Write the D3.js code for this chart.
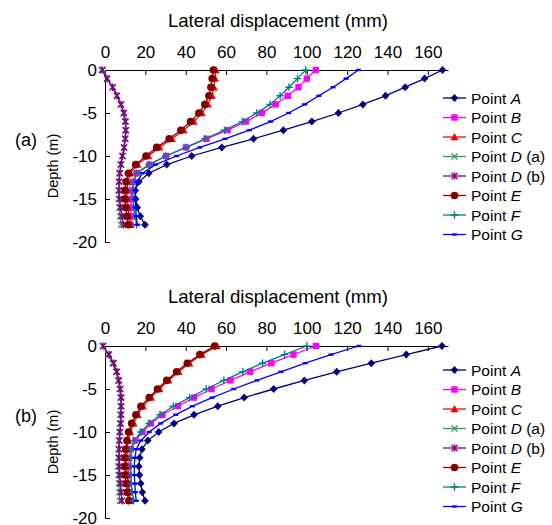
<!DOCTYPE html>
<html>
<head>
<meta charset="utf-8">
<script src="https://cdn.jsdelivr.net/npm/d3@7"></script>
<style>
  html, body { margin: 0; padding: 0; background: #fff; }
  svg text { font-family: "Liberation Sans", Arial, Helvetica, sans-serif; fill: #000; }
</style>
</head>
<body>
<svg id="chart" width="552" height="525"></svg>
<script>
// Depth of each reading (m)
const depth = [0, -1, -2, -3, -4, -5, -6, -7, -8, -9, -10, -11, -12, -13, -14, -15, -16, -17, -18];

// Axis ticks
const xTicks = [0, 20, 40, 60, 80, 100, 120, 140, 160];
const yTicks = [0, -5, -10, -15, -20];

// Series names
const seriesNames = ["A", "B", "C", "D", "D", "E", "F", "G"];
const seriesSuffix = ["", "", "", " (a)", " (b)", "", "", ""];

// Panel (a): lateral displacement (mm) at each depth
const a_A  = [167.3, 158.4, 148.8, 139, 127.8, 115.7, 102.5, 88.4, 73.6, 57.9, 43, 30.6, 21.7, 16.8, 15, 15.2, 16, 17.5, 19.8];
const a_B  = [104.5, 100, 95.9, 90.6, 84.6, 77.7, 69.9, 60.8, 50.3, 40.2, 30.3, 22, 15.7, 14, 13.2, 12.9, 12.9, 12.9, 12.7];
const a_C  = [55, 54.6, 54, 53, 51, 48, 44, 39, 33.2, 27, 21.5, 16.2, 12.6, 11.3, 10.9, 10.9, 11.4, 12, 12.8];
const a_Da = [-1, 1.2, 3.8, 6, 7.8, 9.2, 9.9, 10.1, 9.9, 9.4, 8.8, 8.1, 7.5, 7.1, 6.9, 6.9, 7.1, 7.5, 8];
const a_Db = [-1.5, 1, 3.8, 5.9, 8, 9.4, 10.2, 10.4, 10.1, 9.5, 8.6, 7.8, 7.2, 6.9, 6.9, 7.2, 7.7, 8.4, 9.2];
const a_E  = [53.7, 53.1, 52.5, 51.5, 49.5, 46.5, 42.4, 37.6, 31.8, 25.6, 20.3, 15.2, 11.6, 10.4, 9.9, 9.9, 10.4, 10.9, 11.6];
const a_F  = [99.5, 95.4, 91.2, 86.8, 81.8, 75.2, 68.1, 59.2, 49.6, 40.2, 30.1, 21.8, 15.7, 14.2, 13.8, 13.8, 14.2, 14.8, 15.7];
const a_G  = [125.6, 119.5, 113, 106, 99, 91, 82, 71.5, 59.5, 47, 35.5, 25, 18.5, 16, 15, 15, 15.2, 15.5, 16];

// Panel (b)
const b_A  = [167, 149.3, 132, 114.8, 98.8, 83.6, 69, 55.9, 44.1, 34.2, 26.6, 21.2, 18.3, 17.2, 16.8, 17.1, 17.7, 18.5, 19.8];
const b_B  = [104.6, 93.4, 82.4, 72, 62.2, 52.8, 44.1, 36.2, 28.5, 22.7, 18.6, 15, 12.8, 12, 11.7, 11.7, 11.9, 12.1, 12.4];
const b_C  = [55.5, 48, 41.8, 36.5, 31.5, 27, 22.8, 18.8, 16.2, 14.2, 12.5, 11.5, 11, 10.8, 10.8, 11, 11.3, 11.8, 12.5];
const b_Da = [-1, 1.5, 3.8, 5.5, 6.5, 7.2, 7.6, 7.7, 7.6, 7.4, 7.1, 6.9, 6.7, 6.6, 6.6, 6.7, 6.9, 7.1, 7.4];
const b_Db = [-1, 2, 4.3, 5.9, 6.9, 7.6, 8.1, 8.1, 8, 7.8, 7.5, 7.2, 7, 7, 7.1, 7.3, 7.6, 8, 8.4];
const b_E  = [54.3, 47, 40.8, 35.5, 30.6, 26, 21.9, 17.8, 15.3, 13.2, 11.7, 10.9, 10.2, 9.9, 9.9, 10, 10.5, 11, 11.8];
const b_F  = [100, 89, 78.1, 68.3, 58.9, 50.2, 41.9, 33.9, 27.3, 21.9, 17.8, 14.5, 13, 12.8, 12.7, 12.8, 13, 13.5, 14.2];
const b_G  = [125.8, 112, 99.2, 87.2, 75.3, 63.8, 53.1, 43.3, 35, 27.6, 21.9, 17.8, 15.5, 14.8, 14.5, 14.5, 14.8, 15, 15.5];

// Styling for each series: colour and marker shape
const styles = [
  { color: "#000080", marker: "diamond" },
  { color: "#ff00ff", marker: "square" },
  { color: "#ff0000", marker: "triangle" },
  { color: "#339966", marker: "cross" },
  { color: "#800080", marker: "star" },
  { color: "#800000", marker: "circle" },
  { color: "#008080", marker: "plus" },
  { color: "#0000ff", marker: "dash" }
];

const panels = [
  { tag: "(a)", top: 70, legendTop: 98, series: [a_A, a_B, a_C, a_Da, a_Db, a_E, a_F, a_G] },
  { tag: "(b)", top: 346, legendTop: 370, series: [b_A, b_B, b_C, b_Da, b_Db, b_E, b_F, b_G] }
];

const plotLeft = 105, plotRight = 448, plotHeight = 172;
const svg = d3.select("#chart");

// Draws one marker of the given shape centred at (cx, cy)
function drawMarker(g, shape, color, cx, cy) {
  const m = g.append("g").attr("transform", `translate(${cx},${cy})`);
  switch (shape) {
    case "diamond":
      m.append("path").attr("d", "M0,-4L3.8,0L0,4L-3.8,0Z").attr("fill", color);
      break;
    case "square":
      m.append("rect").attr("x", -3.2).attr("y", -3.2).attr("width", 6.4).attr("height", 6.4).attr("fill", color);
      break;
    case "triangle":
      m.append("path").attr("d", "M0,-4L4,3.2L-4,3.2Z").attr("fill", color);
      break;
    case "cross":
      m.append("path").attr("d", "M-3,-3L3,3M-3,3L3,-3").attr("stroke", color).attr("stroke-width", 1.4).attr("fill", "none");
      break;
    case "star":
      m.append("path").attr("d", "M-3,-3L3,3M-3,3L3,-3M0,-3.8L0,3.8").attr("stroke", color).attr("stroke-width", 1.4).attr("fill", "none");
      break;
    case "circle":
      m.append("circle").attr("r", 3.8).attr("fill", color);
      break;
    case "plus":
      m.append("path").attr("d", "M-3.8,0L3.8,0M0,-3.8L0,3.8").attr("stroke", color).attr("stroke-width", 1.4).attr("fill", "none");
      break;
    case "dash":
      m.append("rect").attr("x", -2.5).attr("y", -1.2).attr("width", 5).attr("height", 2.4).attr("fill", color);
      break;
  }
}

panels.forEach(p => {
  const x = d3.scaleLinear().domain([0, 170]).range([plotLeft, plotRight]);
  const y = d3.scaleLinear().domain([0, -20]).range([p.top, p.top + plotHeight]);
  const g = svg.append("g");

  // Axes: x along the top, depth down the left, ticks pointing inwards
  const xAxis = g.append("g")
    .attr("transform", `translate(0,${p.top})`)
    .call(d3.axisTop(x).tickValues(xTicks).tickSizeInner(-5).tickSizeOuter(0).tickPadding(12).tickFormat(d => String(d)));
  const yAxis = g.append("g")
    .attr("transform", `translate(${plotLeft},0)`)
    .call(d3.axisLeft(y).tickValues(yTicks).tickSizeInner(-5).tickSizeOuter(0).tickPadding(8).tickFormat(d => String(d)));
  [xAxis, yAxis].forEach(a => {
    a.selectAll("path, line").attr("stroke", "#000").attr("stroke-width", 1);
    a.selectAll("text").attr("font-size", 17).attr("fill", "#000")
      .style("font-family", '"Liberation Sans", Arial, sans-serif');
  });
  yAxis.selectAll("text").attr("dy", "0.3em");

  // Axis titles and panel tag
  g.append("text").attr("x", 278).attr("y", p.top - 43)
    .attr("text-anchor", "middle").attr("font-size", 18.6).text("Lateral displacement (mm)");
  g.append("text").attr("transform", `translate(57.5,${p.top + 96}) rotate(-90)`)
    .attr("text-anchor", "middle").attr("font-size", 14.5).text("Depth (m)");
  g.append("text").attr("x", 26).attr("y", p.top + 76)
    .attr("text-anchor", "middle").attr("font-size", 18).text(p.tag);

  // Series lines and markers
  const line = d3.line().x(d => x(d[0])).y(d => y(d[1]));
  p.series.forEach((vals, i) => {
    const st = styles[i];
    const pts = vals.map((v, k) => [v, depth[k]]);
    g.append("path").datum(pts).attr("d", line)
      .attr("fill", "none").attr("stroke", st.color).attr("stroke-width", 1.3);
    const mg = g.append("g");
    pts.forEach(pt => drawMarker(mg, st.marker, st.color, x(pt[0]), y(pt[1])));
  });

  // Legend
  const lg = g.append("g");
  seriesNames.forEach((name, i) => {
    const st = styles[i];
    const cy = p.legendTop + i * 19.5;
    lg.append("line").attr("x1", 443).attr("x2", 466).attr("y1", cy).attr("y2", cy)
      .attr("stroke", st.color).attr("stroke-width", 1.3);
    drawMarker(lg, st.marker, st.color, 454.5, cy);
    const t = lg.append("text").attr("x", 471).attr("y", cy + 5.5).attr("font-size", 15.5);
    t.append("tspan").text("Point ");
    t.append("tspan").attr("font-style", "italic").text(name);
    if (seriesSuffix[i]) t.append("tspan").text(seriesSuffix[i]);
  });
});
</script>
</body>
</html>
